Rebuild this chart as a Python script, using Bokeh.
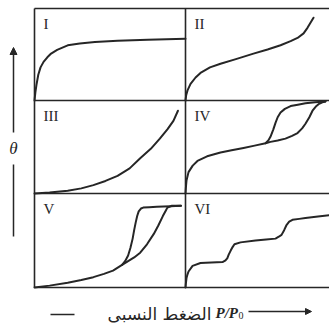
from bokeh.plotting import figure
from bokeh.models import Range1d, Arrow, NormalHead, Label
from bokeh.embed import file_html
from bokeh.resources import INLINE

# ---- data: relative pressure P/P0 (x) and coverage theta (y), each 0..1 ----
# Type I
t1_x = [0.0, 0.006, 0.013, 0.025, 0.04, 0.06, 0.085, 0.11, 0.15, 0.22, 0.30, 0.40, 0.55, 0.75, 1.0]
t1_y = [0.0, 0.09, 0.17, 0.28, 0.36, 0.42, 0.47, 0.51, 0.55, 0.60, 0.62, 0.635, 0.65, 0.66, 0.67]
# Type II
t2_x = [0.0, 0.005, 0.014, 0.035, 0.07, 0.104, 0.17, 0.243, 0.35, 0.472, 0.57, 0.66, 0.73, 0.778, 0.82, 0.847, 0.87, 0.889]
t2_y = [0.0, 0.06, 0.11, 0.18, 0.25, 0.30, 0.36, 0.40, 0.45, 0.51, 0.555, 0.60, 0.645, 0.68, 0.73, 0.79, 0.85, 0.90]
# Type III
t3_x = [0.0, 0.10, 0.22, 0.31, 0.39, 0.47, 0.55, 0.63, 0.70, 0.77, 0.83, 0.88, 0.92, 0.95]
t3_y = [0.0, 0.01, 0.03, 0.055, 0.09, 0.135, 0.19, 0.27, 0.38, 0.48, 0.59, 0.69, 0.78, 0.89]
# Type IV: adsorption branch (lower) and desorption branch (upper)
t4a_x = [0.0, 0.003, 0.007, 0.021, 0.05, 0.083, 0.15, 0.243, 0.32, 0.403, 0.48, 0.556, 0.59, 0.64, 0.694, 0.74, 0.778, 0.81, 0.833, 0.86, 0.882, 0.905, 0.924, 0.95, 0.972]
t4a_y = [0.0, 0.07, 0.14, 0.23, 0.30, 0.35, 0.40, 0.44, 0.465, 0.49, 0.515, 0.54, 0.555, 0.57, 0.59, 0.62, 0.65, 0.70, 0.75, 0.82, 0.89, 0.935, 0.96, 0.98, 0.99]
t4d_x = [0.556, 0.575, 0.59, 0.61, 0.625, 0.64, 0.66, 0.69, 0.73, 0.78, 0.833, 0.90, 0.972]
t4d_y = [0.54, 0.57, 0.61, 0.69, 0.76, 0.82, 0.87, 0.91, 0.94, 0.955, 0.97, 0.98, 0.99]
# Type V: adsorption branch (right) and desorption branch (left)
t5a_x = [0.0, 0.10, 0.22, 0.31, 0.39, 0.46, 0.52, 0.58, 0.62, 0.66, 0.70, 0.745, 0.79, 0.82, 0.85, 0.87, 0.88, 0.91, 0.97]
t5a_y = [0.0, 0.02, 0.05, 0.08, 0.11, 0.145, 0.18, 0.24, 0.28, 0.32, 0.37, 0.46, 0.57, 0.66, 0.76, 0.82, 0.85, 0.87, 0.87]
t5d_x = [0.58, 0.60, 0.62, 0.635, 0.65, 0.66, 0.67, 0.68, 0.69, 0.705, 0.72, 0.76, 0.81, 0.90, 0.97]
t5d_y = [0.24, 0.28, 0.34, 0.42, 0.52, 0.61, 0.69, 0.76, 0.81, 0.84, 0.85, 0.855, 0.86, 0.865, 0.87]
# Type VI (stepwise)
t6_x = [0.0, 0.003, 0.007, 0.014, 0.021, 0.049, 0.104, 0.18, 0.257, 0.275, 0.29, 0.30, 0.313, 0.327, 0.34, 0.382, 0.486, 0.56, 0.625, 0.648, 0.667, 0.685, 0.70, 0.72, 0.743, 0.79, 0.833, 0.92, 1.0]
t6_y = [0.0, 0.05, 0.10, 0.14, 0.17, 0.23, 0.26, 0.265, 0.27, 0.285, 0.31, 0.35, 0.39, 0.43, 0.46, 0.48, 0.50, 0.51, 0.52, 0.54, 0.56, 0.61, 0.66, 0.70, 0.72, 0.73, 0.74, 0.755, 0.77]

numerals = ["I", "II", "III", "IV", "V", "VI"]
y_label = "\u03b8"
x_label_ar = "الضغط النسبى"
x_label_p = "P/P"
x_label_sub = "0"

# ---- layout (page pixel coordinates; the page has no margin) ----
W, H = 329, 323
X0, Y0 = 0, 0
col_px = [(34, 185), (185, 329)]
row_px = [(100, 8), (193, 100), (287, 193)]   # (bottom, top)
INK = "#262626"

p = figure(width=W, height=H, output_backend="svg", toolbar_location=None,
           x_range=Range1d(X0, X0 + W), y_range=Range1d(Y0 + H, Y0),
           x_axis_location=None, y_axis_location=None, min_border=0,
           outline_line_color=None, background_fill_color="white",
           border_fill_color="white")
p.grid.visible = False

# per-panel scales: data 0..1 mapped into each panel box
for ci, (l, r) in enumerate(col_px):
    s = r - l
    p.extra_x_ranges[f"c{ci}"] = Range1d((X0 - l) / s, (X0 + W - l) / s)
for ri, (b, t) in enumerate(row_px):
    s = b - t
    p.extra_y_ranges[f"r{ri}"] = Range1d((b - (Y0 + H)) / s, (b - Y0) / s)

# panel frame
FW = 1.6
for y in (8, 100, 193, 287):
    p.segment(x0=[34], y0=[y], x1=[329], y1=[y], line_color=INK, line_width=FW)
for x in (34, 185):
    p.segment(x0=[x], y0=[8], x1=[x], y1=[287], line_color=INK, line_width=FW)

curves = [
    (0, 0, [(t1_x, t1_y)]),
    (1, 0, [(t2_x, t2_y)]),
    (0, 1, [(t3_x, t3_y)]),
    (1, 1, [(t4a_x, t4a_y), (t4d_x, t4d_y)]),
    (0, 2, [(t5a_x, t5a_y), (t5d_x, t5d_y)]),
    (1, 2, [(t6_x, t6_y)]),
]
for ci, ri, series in curves:
    for xs, ys in series:
        p.line(xs, ys, x_range_name=f"c{ci}", y_range_name=f"r{ri}",
               line_color=INK, line_width=2.0, line_join="round", line_cap="round")

# roman numerals
num_pos = [(0, 0), (1, 0), (0, 1), (1, 1), (0, 2), (1, 2)]
for txt, (ci, ri) in zip(numerals, num_pos):
    p.add_layout(Label(x=col_px[ci][0] + 9, y=row_px[ri][1] + 7, text=txt,
                       text_font="Liberation Serif", text_font_size="15px",
                       text_color=INK, text_baseline="top", text_align="left"))

# y axis arrow with theta
p.segment(x0=[13], y0=[236], x1=[13], y1=[164], line_color=INK, line_width=1.5)
p.add_layout(Arrow(x_start=13, y_start=132, x_end=13, y_end=47, line_color=INK,
                   line_width=1.5,
                   end=NormalHead(size=7, line_color=INK, fill_color=INK)))
p.add_layout(Label(x=13, y=148, text=y_label, text_font="Liberation Serif",
                   text_font_style="italic", text_font_size="17px", text_color=INK,
                   text_align="center", text_baseline="middle"))

# x label
p.segment(x0=[50], y0=[314], x1=[74], y1=[314], line_color=INK, line_width=1.5)
p.add_layout(Label(x=211, y=313, text=x_label_ar, text_font="DejaVu Sans",
                   text_font_size="17px", text_color=INK,
                   text_align="right", text_baseline="alphabetic"))
p.add_layout(Label(x=215, y=312, text=x_label_p, text_font="Liberation Serif",
                   text_font_style="bold italic", text_font_size="15px",
                   text_color=INK, text_align="left", text_baseline="alphabetic"))
p.add_layout(Label(x=238, y=315, text=x_label_sub, text_font="Liberation Serif",
                   text_font_size="10px", text_color=INK, text_align="left",
                   text_baseline="alphabetic"))
p.add_layout(Arrow(x_start=248, y_start=311, x_end=311, y_end=311, line_color=INK,
                   line_width=1.5,
                   end=NormalHead(size=6, line_color=INK, fill_color=INK)))

open("out.html", "w").write(file_html(p, INLINE))
